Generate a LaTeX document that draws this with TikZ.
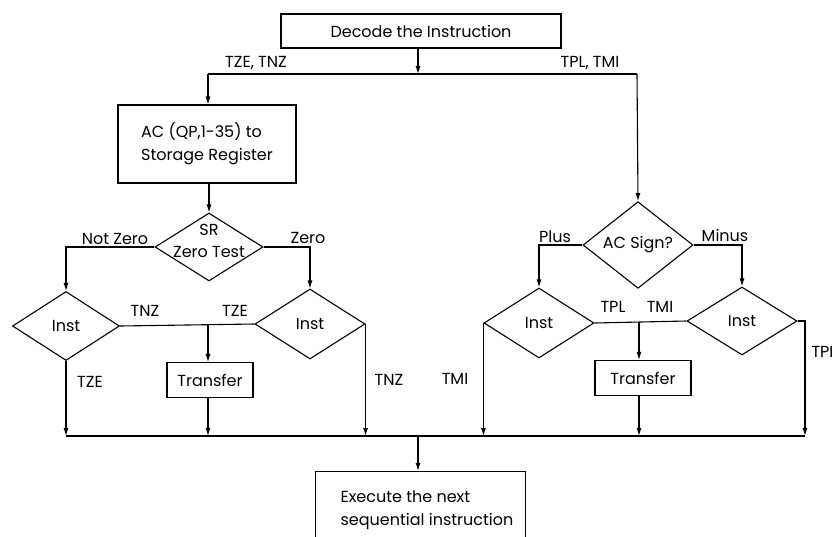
\documentclass[tikz,border=0pt]{standalone}
\usepackage{fontspec}
\setmainfont{Poppins}
\usetikzlibrary{shapes.geometric,arrows.meta}
\begin{document}
\begin{tikzpicture}[x=1pt,y=-1pt,
  line width=1.1pt,
  every node/.style={font=\fontsize{16}{19}\selectfont},
  flow/.style={-{Latex[length=8pt,width=5pt]}},
  box/.style={draw,rectangle,inner sep=0pt},
  test/.style={draw,diamond,inner sep=0pt},
  tag/.style={inner sep=0pt}]
\clip (0,0) rectangle (832,536);

% process boxes
\node[box,minimum width=280,minimum height=34] (decode) at (421,31) {Decode the Instruction};
\node[box,minimum width=178,minimum height=78,align=left,font=\fontsize{16}{23}\selectfont] (acsr) at (207,144) {AC (QP,1-35) to\\Storage Register};
\node[box,minimum width=86,minimum height=35] (xferA) at (210,380) {Transfer};
\node[box,minimum width=96,minimum height=35] (xferB) at (643,378) {Transfer};
\node[box,minimum width=210,minimum height=90,anchor=north west] (exec) at (315,471) {};
\node[tag,align=left,anchor=north west,font=\fontsize{16}{23}\selectfont] (exectext) at (340,490) {Execute the next\\sequential instruction};

% decisions
\node[test,minimum width=108,minimum height=68] (srtest) at (209,247) {};
\node[tag,align=center,font=\fontsize{16}{22}\selectfont] (srtext) at (209,241) {SR\\Zero Test};
\node[test,minimum width=107,minimum height=69] (instA) at (66,326) {Inst};
\node[test,minimum width=110,minimum height=70] (instB) at (310,324) {Inst};
\node[test,minimum width=110,minimum height=69] (sign) at (638,245) {AC Sign?};
\node[test,minimum width=110,minimum height=70] (instC) at (539,323) {Inst};
\node[test,minimum width=110,minimum height=68] (instD) at (742,321) {Inst};

% junction points
\coordinate (split) at (418,74);
\coordinate (splitL) at (208,74);
\coordinate (splitR) at (637,74);
\coordinate (busL) at (66,436);
\coordinate (busR) at (805,436);
\coordinate (merge) at (418,436);
\coordinate (midA) at (208,324);
\coordinate (midB) at (639,322);
\coordinate (stubD) at (805,321);

% decode and dispatch
\draw[flow] (decode.south -| split) -- (split);
\draw (splitL) -- (splitR);
\draw[flow] (splitL) -- (acsr.north -| splitL);
\draw[flow] (splitR) -- (sign.north);
\draw[flow] (acsr.south -| srtest.north) -- (srtest.north);

% zero test branches
\draw[flow] (srtest.west) -| (instA.north);
\draw[flow] (srtest.east) -| (instB.north);
\draw (instA.east) -- (instB.west);
\draw[flow] (midA) -- (xferA.north -| midA);

% sign test branches
\draw[flow] (sign.west) -| (instC.north);
\draw[flow] (sign.east) -| (instD.north);
\draw (instC.east) -- (instD.west);
\draw[flow] (midB) -- (xferB.north -| midB);

% returns to the common bus
\draw[flow] (instA.south) -- (busL);
\draw[flow] (xferA.south -| midA) -- (busL -| midA);
\draw[flow] (instB.east) -- (instB.east |- busL);
\draw[flow] (instC.west) -- (instC.west |- busL);
\draw[flow] (xferB.south -| midB) -- (busL -| midB);
\draw[flow] (instD.east) -- (stubD) -- (busR);
\draw (busL) -- (busR);
\draw[flow] (merge) -- (exec.north -| merge);

% branch labels
\node[tag] (lTzeTnz) at (256,63) {TZE, TNZ};
\node[tag] (lTplTmi) at (590,63) {TPL, TMI};
\node[tag] (lNotZero) at (115,239) {Not Zero};
\node[tag] (lZero) at (308,238) {Zero};
\node[tag] (lTnzA) at (145,311) {TNZ};
\node[tag] (lTzeA) at (235,311) {TZE};
\node[tag] (lTzeB) at (90,382) {TZE};
\node[tag] (lTnzB) at (389,380) {TNZ};
\node[tag] (lTmiB) at (455,379) {TMI};
\node[tag] (lPlus) at (555,237) {Plus};
\node[tag] (lMinus) at (725,235) {Minus};
\node[tag] (lTplA) at (613,307) {TPL};
\node[tag] (lTmiA) at (660,307) {TMI};
\node[tag,anchor=west] (lTplB) at (811,352) {TPL};
\end{tikzpicture}
\end{document}
